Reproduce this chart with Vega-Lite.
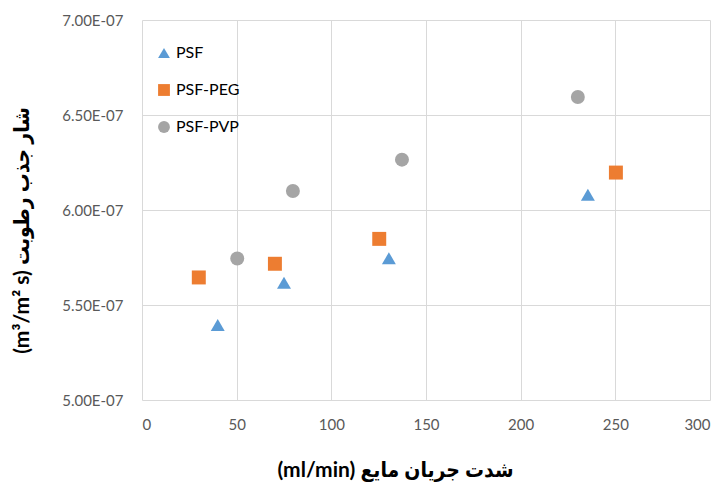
{
  "$schema": "https://vega.github.io/schema/vega-lite/v6.json",
  "width": 568,
  "height": 380,
  "autosize": {"type": "none"},
  "padding": {"left": 142, "top": 20, "right": 15, "bottom": 92},
  "background": "white",
  "data": {
    "values": [
      {"flow": 40, "flux": 5.395e-7, "series": "PSF"},
      {"flow": 75, "flux": 5.617e-7, "series": "PSF"},
      {"flow": 130.4, "flux": 5.746e-7, "series": "PSF"},
      {"flow": 235.5, "flux": 6.08e-7, "series": "PSF"},
      {"flow": 30, "flux": 5.645e-7, "series": "PSF-PEG"},
      {"flow": 70.2, "flux": 5.717e-7, "series": "PSF-PEG"},
      {"flow": 125.3, "flux": 5.848e-7, "series": "PSF-PEG"},
      {"flow": 250.3, "flux": 6.197e-7, "series": "PSF-PEG"},
      {"flow": 50.3, "flux": 5.745e-7, "series": "PSF-PVP"},
      {"flow": 79.7, "flux": 6.10e-7, "series": "PSF-PVP"},
      {"flow": 137.3, "flux": 6.265e-7, "series": "PSF-PVP"},
      {"flow": 230.2, "flux": 6.595e-7, "series": "PSF-PVP"}
    ]
  },
  "config": {
    "view": {"stroke": null},
    "font": "Lato",
    "axis": {
      "gridColor": "#d9d9d9",
      "gridWidth": 1,
      "domain": false,
      "ticks": false,
      "labelFont": "Lato",
      "labelFontSize": 15,
      "labelColor": "#595959",
      "titleFont": "Lato, DejaVu Sans Condensed, DejaVu Sans",
      "titleFontSize": 21,
      "titleFontWeight": "bold",
      "titleColor": "#000000"
    }
  },
  "mark": {"type": "point", "filled": true, "opacity": 1, "size": 195},
  "encoding": {
    "x": {
      "field": "flow",
      "type": "quantitative",
      "scale": {"domain": [0, 300], "nice": false, "zero": false},
      "axis": {
        "values": [0, 50, 100, 150, 200, 250, 300],
        "title": "(ml/min) شدت جریان مایع",
        "labelPadding": 17,
        "titleX": 253,
        "titleY": 70,
        "titleAnchor": "middle",
        "titleBaseline": "middle"
      }
    },
    "y": {
      "field": "flux",
      "type": "quantitative",
      "scale": {"domain": [5e-7, 7e-7], "nice": false, "zero": false},
      "axis": {
        "values": [5e-7, 5.5e-7, 6e-7, 6.5e-7, 7e-7],
        "labelExpr": "format(datum.value * 1e7, '.2f') + 'E-07'",
        "labelPadding": 19,
        "title": "(m³/m² s) شار جذب رطوبت",
        "titleAngle": -90,
        "titleX": -120,
        "titleY": 210,
        "titleAnchor": "middle",
        "titleBaseline": "middle"
      }
    },
    "color": {
      "field": "series",
      "type": "nominal",
      "scale": {"domain": ["PSF", "PSF-PEG", "PSF-PVP"], "range": ["#5B9BD5", "#ED7D31", "#A5A5A5"]},
      "legend": {
        "title": null,
        "orient": "none",
        "legendX": 14,
        "legendY": 25,
        "labelFont": "Lato",
        "labelFontSize": 16,
        "labelColor": "#000000",
        "rowPadding": 21,
        "symbolSize": 140,
        "labelOffset": 4
      }
    },
    "shape": {
      "field": "series",
      "type": "nominal",
      "scale": {"domain": ["PSF", "PSF-PEG", "PSF-PVP"], "range": ["triangle-up", "square", "circle"]}
    }
  }
}
